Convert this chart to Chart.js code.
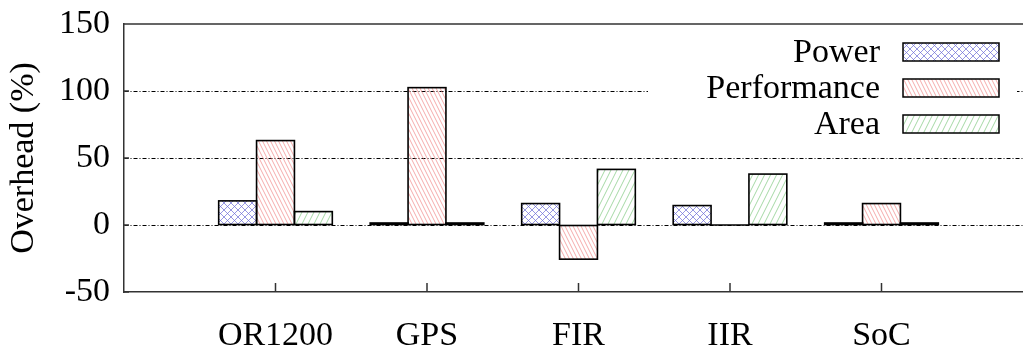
<!DOCTYPE html>
<html>
<head>
<meta charset="utf-8">
<script src="https://cdn.jsdelivr.net/npm/chart.js@4"></script>
<style>
  html, body { margin: 0; padding: 0; background: #fff; overflow: hidden; }
  #wrap { width: 1040px; height: 349px; }
</style>
</head>
<body>
<div id="wrap"><canvas id="overheadChart" width="1040" height="349"></canvas></div>
<script>
// values (overhead in %)
const categories = ['OR1200', 'GPS', 'FIR', 'IIR', 'SoC'];
const power = [18, 1.5, 16, 14.5, 1.5];
const performance = [63, 102.5, -25.5, 0, 16];
const area = [10, 1.5, 41.5, 38, 1.5];
const yTicks = [-50, 0, 50, 100, 150];

// hatch fills like gnuplot's
function makePattern(kind, color) {
    const c = document.createElement('canvas');
    if (kind === 'cross') { c.width = 7; c.height = 7; }
    else if (kind === 'back') { c.width = 4; c.height = 8; }
    else { c.width = 6; c.height = 12; }
    const p = c.getContext('2d');
    p.strokeStyle = color;
    p.lineWidth = 0.9;
    p.beginPath();
    if (kind === 'cross') {
        p.moveTo(-1, -1); p.lineTo(8, 8);
        p.moveTo(8, -1); p.lineTo(-1, 8);
    } else if (kind === 'back') {
        for (let dx = -4; dx <= 4; dx += 4) { p.moveTo(dx, 0); p.lineTo(dx + 4, 8); }
    } else {
        for (let dx = -6; dx <= 6; dx += 6) { p.moveTo(dx + 6, 0); p.lineTo(dx, 12); }
    }
    p.stroke();
    return p.createPattern(c, 'repeat');
}

const asPoints = arr => arr.map((v, i) => ({ x: i, y: v }));

// gnuplot style outlines (centred on the bar edges) + legend in the top right
const keyPlugin = {
    id: 'key',
    afterDatasetsDraw(chart) {
        const ctx = chart.ctx;
        ctx.save();
        ctx.lineWidth = 1.6;
        ctx.strokeStyle = '#000';
        chart.data.datasets.forEach((ds, i) => {
            chart.getDatasetMeta(i).data.forEach(el => {
                const { x, y, base, width } = el.getProps(['x', 'y', 'base', 'width'], true);
                ctx.strokeRect(x - width / 2, Math.min(y, base), width, Math.abs(base - y));
            });
        });

        ctx.fillStyle = '#fff';
        ctx.fillRect(648, 34, 369, 108);
        ctx.font = '34px "Liberation Serif"';
        ctx.textAlign = 'right';
        ctx.textBaseline = 'middle';
        chart.data.datasets.forEach((ds, i) => {
            const yc = 52 + i * 36;
            ctx.fillStyle = '#000';
            ctx.fillText(ds.label, 880, yc + 1);
            ctx.fillStyle = ds.backgroundColor;
            ctx.fillRect(903, yc - 9, 96, 18);
            ctx.lineWidth = 1.5;
            ctx.strokeStyle = '#000';
            ctx.strokeRect(903, yc - 9, 96, 18);
        });
        ctx.restore();
    },
    afterDraw(chart) {
        const { ctx, chartArea: a, scales } = chart;
        ctx.save();
        ctx.strokeStyle = '#333';
        ctx.lineWidth = 1.5;
        ctx.beginPath();
        ctx.moveTo(a.left, a.top);
        ctx.lineTo(chart.width, a.top);
        // inward tick marks
        categories.forEach((c, i) => {
            const x = scales.x.getPixelForValue(i);
            ctx.moveTo(x, a.bottom);
            ctx.lineTo(x, a.bottom - 9);
        });
        yTicks.forEach(v => {
            const y = scales.y.getPixelForValue(v);
            ctx.moveTo(a.left, y);
            ctx.lineTo(a.left + 5, y);
        });
        ctx.stroke();
        ctx.restore();
    }
};

Chart.defaults.font.family = '"Liberation Serif", serif';
Chart.defaults.color = '#000';

const ctx = document.getElementById('overheadChart').getContext('2d');
new Chart(ctx, {
    type: 'bar',
    data: {
        datasets: [
            { label: 'Power', data: asPoints(power), backgroundColor: makePattern('cross', 'rgba(110,110,215,0.8)') },
            { label: 'Performance', data: asPoints(performance), backgroundColor: makePattern('back', 'rgba(240,130,130,0.75)') },
            { label: 'Area', data: asPoints(area), backgroundColor: makePattern('fwd', 'rgba(130,200,130,0.8)') }
        ]
    },
    options: {
        responsive: false,
        animation: false,
        layout: { padding: { top: 24, right: 7, left: 0, bottom: 0 } },
        datasets: {
            bar: {
                borderWidth: 0,
                inflateAmount: 0,
                categoryPercentage: 0.75,
                barPercentage: 1
            }
        },
        plugins: { legend: { display: false }, tooltip: { enabled: false } },
        scales: {
            x: {
                type: 'linear',
                min: -1,
                max: 5,
                offset: false,
                afterFit: s => { s.height = 57; s.paddingLeft = 0; s.paddingRight = 0; },
                afterBuildTicks: s => { s.ticks = categories.map((c, i) => ({ value: i })); },
                grid: { display: false, drawTicks: false, offset: false },
                border: { color: '#333', width: 1.5 },
                ticks: {
                    padding: 24,
                    font: { size: 34 },
                    callback: v => categories[v] ?? ''
                }
            },
            y: {
                min: -50,
                max: 150,
                afterFit: s => { s.width = 124; s.paddingTop = 0; s.paddingBottom = 0; },
                afterBuildTicks: s => { s.ticks = yTicks.map(v => ({ value: v })); },
                grid: {
                    drawTicks: false,
                    color: c => [0, 50, 100].includes(c.tick && c.tick.value) ? '#000' : 'transparent',
                    lineWidth: 1
                },
                border: { color: '#333', width: 1.5, dash: [4, 2, 1, 2] },
                ticks: { padding: 14, font: { size: 34 } },
                title: {
                    display: true,
                    text: 'Overhead (%)',
                    font: { size: 34 },
                    padding: { top: 4, bottom: 0 }
                }
            }
        }
    },
    plugins: [keyPlugin]
});
</script>
</body>
</html>
